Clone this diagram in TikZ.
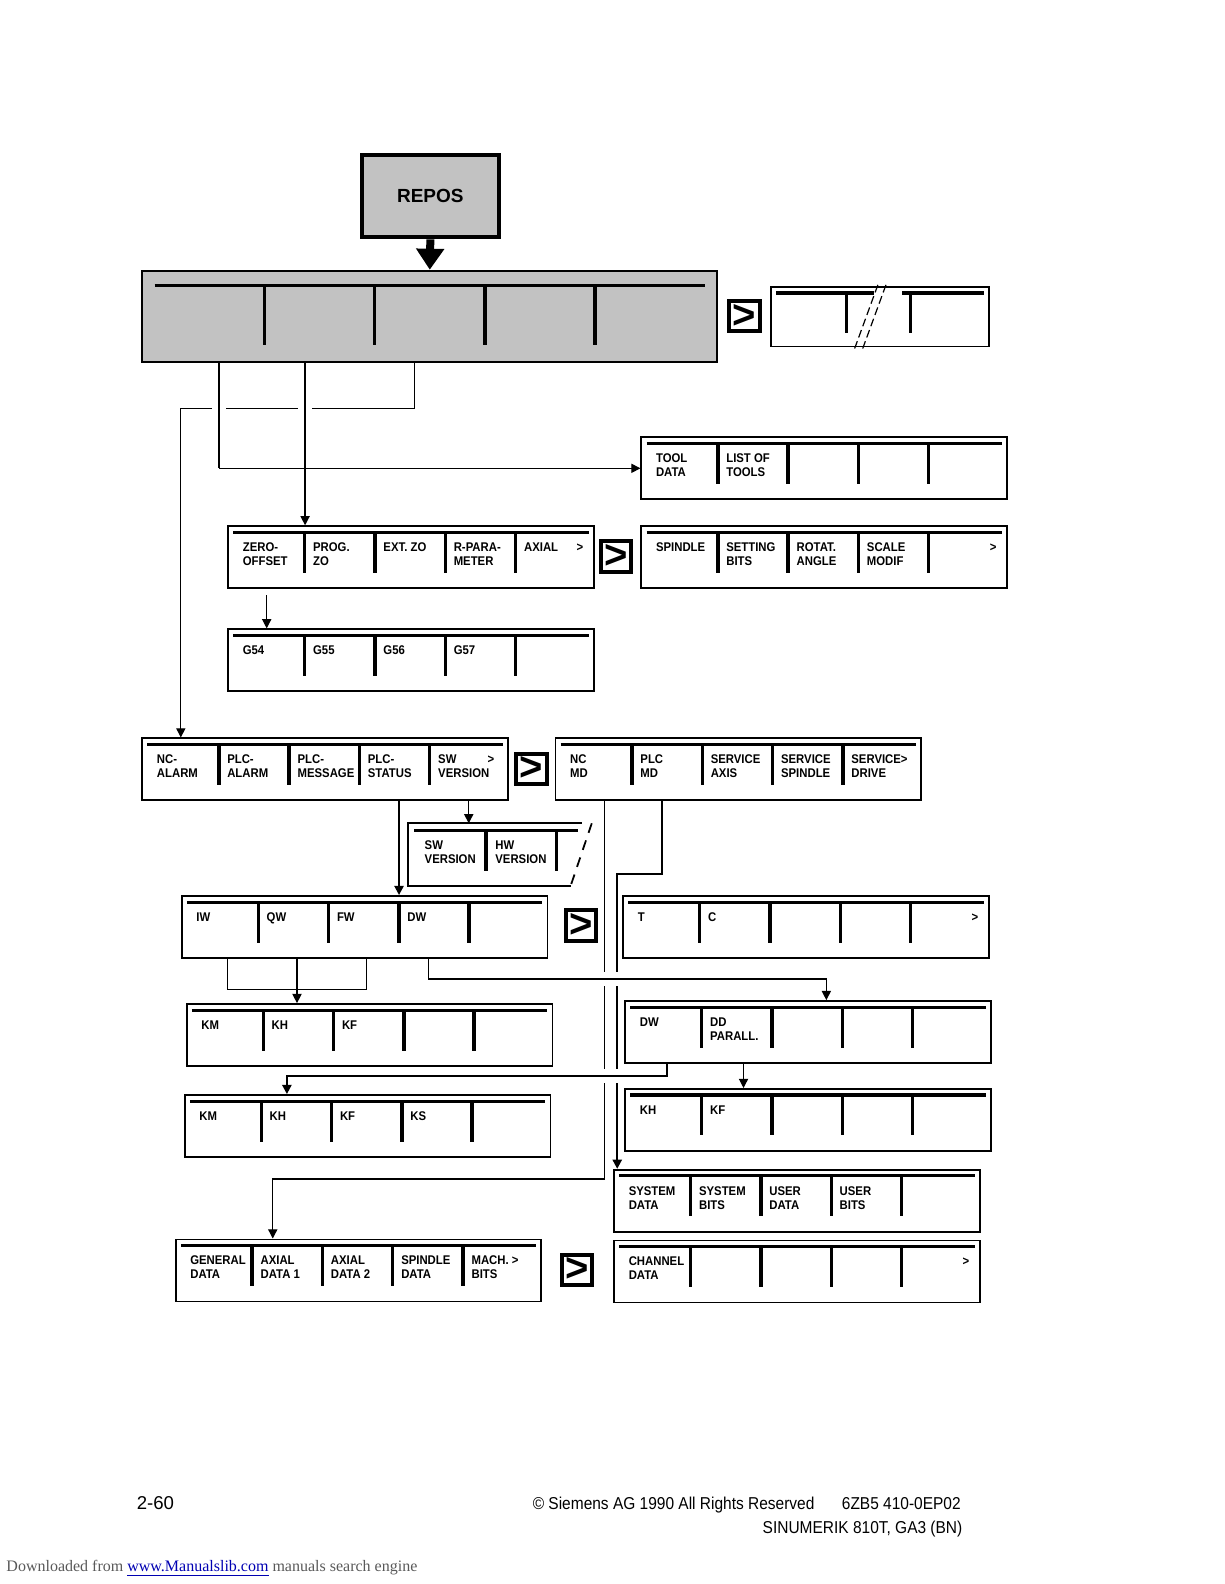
\documentclass[tikz,border=0pt]{standalone}
\usepackage{fontspec}
\setmainfont{Liberation Sans}
\newfontfamily\keyfont[FakeStretch=0.9]{Liberation Sans}
\newfontfamily\webfont{Liberation Serif}
\usetikzlibrary{calc,arrows.meta}
\pgfdeclarelayer{background}
\pgfsetlayers{background,main}

\begin{document}
\begin{tikzpicture}[x=0.505pt, y=-0.505pt,
  keybox/.style={draw, line width=0.9pt, minimum width=182.8pt, minimum height=31pt, inner sep=0pt, anchor=north west},
  keytop/.style={line width=1.6pt},
  keysep/.style={line width=1.7pt},
  keylabel/.style={anchor=north west, inner sep=0pt, align=left, font=\keyfont\bfseries\fontsize{6.3}{7}\selectfont},
  nextkey/.style={draw, line width=2pt, minimum size=15.2pt, inner sep=0pt, font=\bfseries\fontsize{20}{20}\selectfont},
  screen/.style={fill=black!24},
  link/.style={line width=0.6pt},
  thicklink/.style={line width=1pt},
  arrowed/.style={-{Triangle[width=4.6pt,length=4.6pt]}},
  hop/.style={preaction={draw=white, line width=7pt, -}}]
\useasboundingbox (0,0) rectangle (1212,1568);

% Softkey bar: name, left, top and the five key texts
\def\keybar#1#2#3#4#5#6#7#8{
\node[keybox] (#1) at (#2,#3) {};
\draw[keytop] ($(#1.north west)+(6,7)$) -- ($(#1.north east)+(-6,7)$);
\foreach \k in {1,...,4} \draw[keysep] ($(#1.north west)+(7+69.6*\k,7)$) -- ++(0,40);
\node[keylabel] (#1-1) at ($(#1.north west)+(15,17)$) {#4};
\node[keylabel] (#1-2) at ($(#1.north west)+(84.6,17)$) {#5};
\node[keylabel] (#1-3) at ($(#1.north west)+(154.2,17)$) {#6};
\node[keylabel] (#1-4) at ($(#1.north west)+(223.8,17)$) {#7};
\node[keylabel] (#1-5) at ($(#1.north west)+(293.4,17)$) {#8};
}

% REPOS key and its softkey bar
\node[draw, line width=2pt, screen, minimum width=68.7pt, minimum height=41.4pt, font=\bfseries\fontsize{9.5}{11}\selectfont] (repos) at (426,194) {REPOS};
\node[draw, line width=1pt, screen, minimum width=287.3pt, minimum height=45.5pt, inner sep=0pt, anchor=north west] (softbar) at (140,267) {};
\draw[keytop] ($(softbar.north west)+(13,16)$) -- ($(softbar.north east)+(-13,16)$);
\foreach \k in {1,...,4} \draw[keysep] ($(softbar.north west)+(13+109*\k,16)$) -- ++(0,59);
\draw[line width=4pt, -{Triangle[width=13.5pt,length=10.5pt]}] (repos.south) -- (softbar.north);

% extended softkey bar
\node[nextkey] (next1) at (737,313) {>};
\node[draw, line width=0.9pt, minimum width=109.1pt, minimum height=29.8pt, inner sep=0pt, anchor=north west] (morebar) at (762,283) {};
\draw[keytop] ($(morebar.north west)+(6,7)$) -- ($(morebar.north west)+(103,7)$);
\draw[keytop] ($(morebar.north west)+(131,7)$) -- ($(morebar.north east)+(-6,7)$);
\draw[keysep] ($(morebar.north west)+(76,7)$) -- ++(0,40);
\draw[keysep] ($(morebar.north west)+(139,7)$) -- ++(0,40);
\draw[line width=0.6pt, dash pattern=on 4pt off 2pt] ($(morebar.north west)+(107,-1)$) -- ($(morebar.north west)+(84,62)$);
\draw[line width=0.6pt, dash pattern=on 4pt off 2pt] ($(morebar.north west)+(115,-1)$) -- ($(morebar.north west)+(92,62)$);

% menus
\keybar{tool}{634}{432}{TOOL\\DATA}{LIST OF\\TOOLS}{}{}{}
\keybar{zero}{225}{520}{ZERO-\\OFFSET}{PROG.\\ZO}{EXT. ZO}{R-PARA-\\METER}{AXIAL}
\node[keylabel, anchor=base east] (zero-more) at ($(zero.north east)+(-11,26)$) {>};
\node[nextkey] (next2) at (610,551) {>};
\keybar{spindle}{634}{520}{SPINDLE}{SETTING\\BITS}{ROTAT.\\ANGLE}{SCALE\\MODIF}{}
\node[keylabel, anchor=base east] (spindle-more) at ($(spindle.north east)+(-11,26)$) {>};
\keybar{g54}{225}{622}{G54}{G55}{G56}{G57}{}

\keybar{ncalarm}{140}{730}{NC-\\ALARM}{PLC-\\ALARM}{PLC-\\MESSAGE}{PLC-\\STATUS}{SW\\VERSION}
\node[keylabel, anchor=base east] (ncalarm-more) at ($(ncalarm.north east)+(-14,26)$) {>};
\node[nextkey] (next3) at (526,761) {>};
\keybar{ncmd}{549}{730}{NC\\MD}{PLC\\MD}{SERVICE\\AXIS}{SERVICE\\SPINDLE}{SERVICE>\\DRIVE}

% SW version bar, cut on the right
\node[minimum width=91.4pt, minimum height=31pt, inner sep=0pt, anchor=north west] (swver) at (404,815) {};
\draw[line width=0.9pt] ($(swver.north east)+(-10,0)$) -- (swver.north west) -- (swver.south west) -- ($(swver.south east)+(-21,0)$);
\draw[line width=0.9pt, dash pattern=on 5pt off 4pt] (swver.north east) -- ($(swver.south east)+(-21,0)$);
\draw[keytop] ($(swver.north west)+(6,7)$) -- ($(swver.north west)+(168,7)$);
\draw[keysep] ($(swver.north west)+(77,7)$) -- ++(0,40);
\draw[keysep] ($(swver.north west)+(147,7)$) -- ++(0,40);
\node[keylabel] (swver-1) at ($(swver.north west)+(16,17)$) {SW\\VERSION};
\node[keylabel] (swver-2) at ($(swver.north west)+(86,17)$) {HW\\VERSION};

\keybar{iw}{179}{886}{IW}{QW}{FW}{DW}{}
\node[nextkey] (next4) at (575,916) {>};
\keybar{tbox}{616}{886}{T}{C}{}{}{}
\node[keylabel, anchor=base east] (tbox-more) at ($(tbox.north east)+(-11,26)$) {>};
\keybar{km}{184}{993}{KM}{KH}{KF}{}{}
\keybar{dwdd}{618}{990}{DW}{DD\\PARALL.}{}{}{}
\keybar{kmks}{182}{1083}{KM}{KH}{KF}{KS}{}
\keybar{khkf}{618}{1077}{KH}{KF}{}{}{}
\keybar{sysdata}{607}{1157}{SYSTEM\\DATA}{SYSTEM\\BITS}{USER\\DATA}{USER\\BITS}{}
\keybar{general}{173}{1226}{GENERAL\\DATA}{AXIAL\\DATA 1}{AXIAL\\DATA 2}{SPINDLE\\DATA}{MACH. >\\BITS}
\node[nextkey] (next5) at (571,1257) {>};
\keybar{channel}{607}{1227}{CHANNEL\\DATA}{}{}{}{}
\node[keylabel, anchor=base east] (channel-more) at ($(channel.north east)+(-11,26)$) {>};

% connectors, below the bars
\begin{pgfonlayer}{background}
\draw[link, arrowed] ($(softbar.south west)+(270,0)$) -- ++(0,45) -| ($(ncalarm.north west)+(39,0)$);
\draw[thicklink, hop] ($(softbar.south west)+(77,0)$) coordinate (a1) -- (a1 |- tool.west) coordinate (a2);
\draw[link, hop, arrowed] ($(softbar.south west)+(162,0)$) coordinate (b1) -- (b1 |- zero.north);
\draw[link, arrowed] (a2) -- (tool.west);
\draw[link, arrowed] ($(zero.south west)+(39,6)$) coordinate (z1) -- (z1 |- g54.north);

\draw[link, arrowed] ($(ncalarm.south west)+(324,0)$) coordinate (d1) -- (d1 |- swver.north);
\draw[thicklink, arrowed] ($(ncalarm.south west)+(255,0)$) coordinate (e1) -- (e1 |- iw.north);

\draw[link] ($(iw.south west)+(46,0)$) -- ++(0,30) -| ($(iw.south west)+(184,0)$);
\draw[link, arrowed] ($(iw.south west)+(115,0)$) coordinate (h1) -- (h1 |- km.north);

% machine data lines
\draw[link, arrowed] ($(ncmd.south west)+(49,0)$) -- ++(0,374) -| ($(general.north west)+(97,0)$);
\draw[thicklink, arrowed] ($(ncmd.south west)+(106,0)$) -- ++(0,72) -| ($(sysdata.north west)+(4,0)$);

\draw[link, hop, arrowed] ($(iw.south west)+(245,0)$) -- ++(0,20) -| ($(dwdd.north west)+(200,0)$);
\draw[thicklink, hop, arrowed] ($(dwdd.south west)+(42,0)$) -- ++(0,12) -| ($(kmks.north west)+(102,0)$);
\draw[link, arrowed] ($(dwdd.south west)+(118,0)$) coordinate (k1) -- (k1 |- khkf.north);
\end{pgfonlayer}

% page footer
\node[anchor=base west, inner sep=0pt, font=\fontsize{9.3}{11}\selectfont] (pageno) at (135,1494) {2-60};
\node[anchor=base west, inner sep=0pt, font=\keyfont\fontsize{8.6}{10}\selectfont] (copy) at (527,1494) {\textcopyright{} Siemens AG 1990 All Rights Reserved};
\node[anchor=base west, inner sep=0pt, font=\keyfont\fontsize{8.6}{10}\selectfont] (order) at (833,1494) {6ZB5 410-0EP02};
\node[anchor=base east, inner sep=0pt, font=\keyfont\fontsize{8.6}{10}\selectfont] (product) at (953,1518) {SINUMERIK 810T, GA3 (BN)};
\node[anchor=base west, inner sep=0pt, text=black!65, font=\webfont\fontsize{8}{10}\selectfont] (source) at (6,1556) {Downloaded from \textcolor{blue!70!black}{\underline{www.Manualslib.com}} manuals search engine};
\end{tikzpicture}
\end{document}
